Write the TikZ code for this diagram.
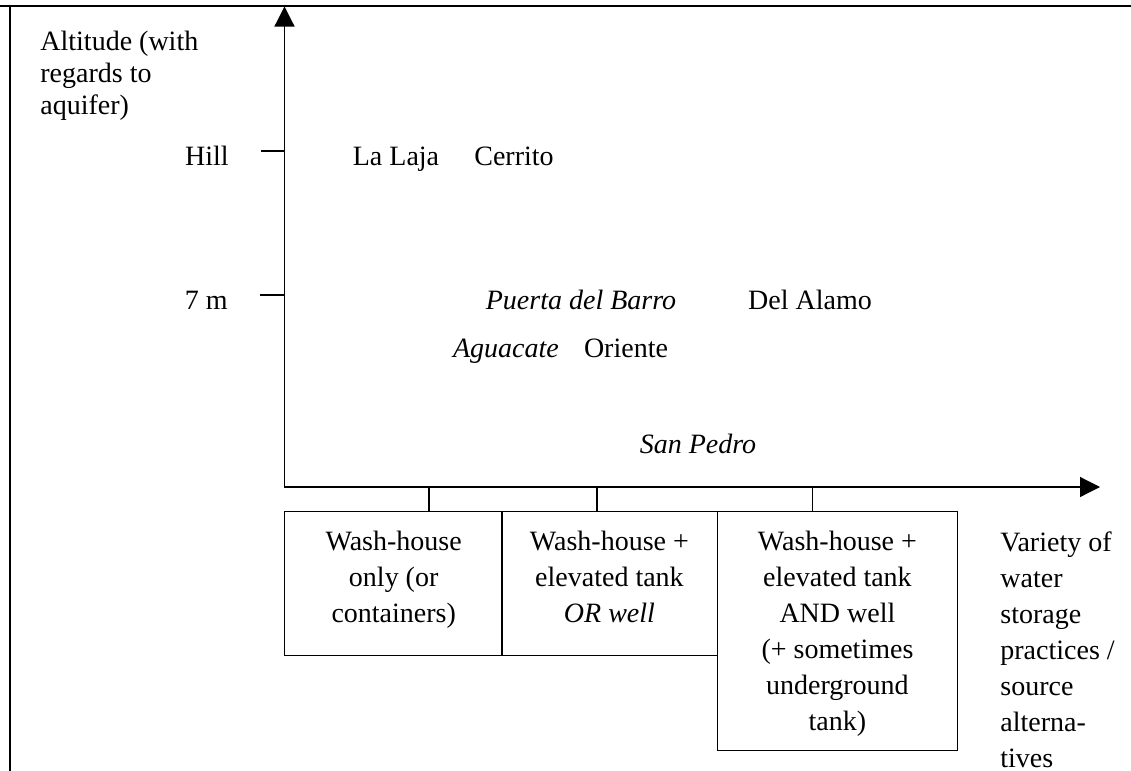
\documentclass[tikz,border=0pt]{standalone}
\usepackage{fontspec}
\setmainfont{Liberation Serif}
\usetikzlibrary{arrows.meta, positioning}

\tikzset{
  axisline/.style={line width=0.6pt, {Triangle[length=10pt,width=10pt]}-{Triangle[length=10pt,width=10pt]}},
  tickline/.style={line width=0.6pt},
  frameline/.style={line width=1pt},
  catbox/.style={draw, line width=0.7pt, anchor=north west, inner sep=0pt},
  cattext/.style={align=center, anchor=north, inner sep=0pt, font=\fontsize{14}{18}\selectfont},
  place/.style={anchor=base, inner sep=0pt},
  level/.style={anchor=base east, inner sep=0pt},
}

\begin{document}
\begin{tikzpicture}[x=0.5pt, y=-0.5pt, font=\fontsize{14}{16}\selectfont]
\useasboundingbox (0,0) rectangle (1131,771);

% outer frame (top and left only)
\draw[frameline] (0,5.5) -- (1131,5.5);
\draw[frameline] (10,5.5) -- (10,771);

% axes
\coordinate (O) at (284.5,487);
\coordinate (Ytop) at (284.5,6.5);
\coordinate (Xend) at (1100,487);
\draw[axisline] (Ytop) -- (O) -- (Xend);

\node[anchor=north west, inner sep=0pt, align=left] (ylabel) at (40,31) {Altitude (with\\regards to\\aquifer)};

% altitude levels
\coordinate (hillTick) at (261,151);
\coordinate (sevenTick) at (260,295);
\draw[tickline] (hillTick) -- (hillTick -| O);
\draw[tickline] (sevenTick) -- (sevenTick -| O);
\node[level] (hill) at (229,165) {Hill};
\node[level] (seven) at (228,309) {7 m};

% villages, by centre
\node[place] (lalaja) at (396,165) {La Laja};
\node[place] (cerrito) at (514,165) {Cerrito};
\node[place] (puerta) at (581,309) {\textit{Puerta del Barro}};
\node[place] (alamo) at (810,309) {Del Alamo};
\node[place] (aguacate) at (506,357) {\textit{Aguacate}};
\node[place] (oriente) at (626,357) {Oriente};
\node[place] (sanpedro) at (698,453) {\textit{San Pedro}};

% storage categories
\node[catbox, minimum width=109pt, minimum height=72pt] (b1) at (284,511) {};
\node[catbox, minimum width=107.75pt, minimum height=72pt] (b2) at (501,511) {};
\node[catbox, minimum width=120.25pt, minimum height=119.5pt] (b3) at (716.5,511) {};

\coordinate (t1) at (429,487);
\coordinate (t2) at (597,487);
\coordinate (t3) at (812.5,487);
\draw[tickline] (t1) -- (t1 |- b1.north);
\draw[tickline] (t2) -- (t2 |- b2.north);
\draw[tickline] (t3) -- (t3 |- b3.north);

\node[cattext, below=10pt of b1.north] (b1text) {Wash-house\\only (or\\containers)};
\node[cattext, below=10pt of b2.north] (b2text) {Wash-house +\\elevated tank\\\textit{OR well}};
\node[cattext, below=10pt of b3.north] (b3text) {Wash-house +\\elevated tank\\AND well\\(+ sometimes\\underground\\tank)};

\node[anchor=north west, inner sep=0pt, align=left, font=\fontsize{14}{18}\selectfont] (xlabel) at (1000,531) {Variety of\\water\\storage\\practices /\\source\\alterna-\\tives};

\end{tikzpicture}
\end{document}
